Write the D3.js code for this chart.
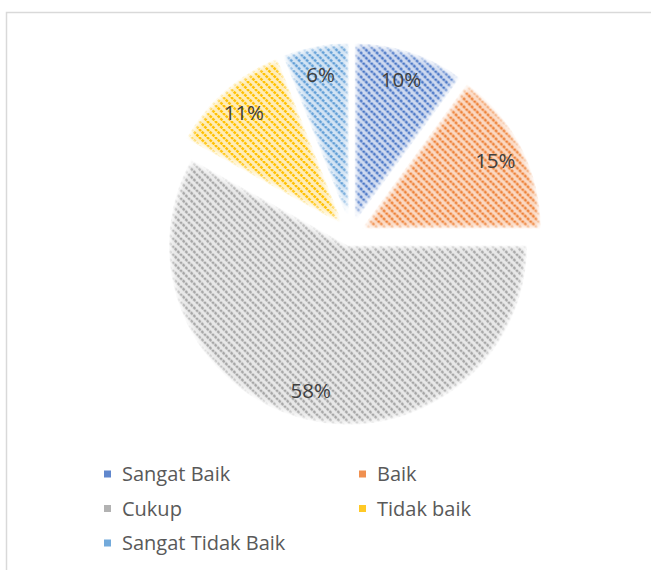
<!DOCTYPE html>
<html>
<head>
<meta charset="utf-8">
<script src="https://cdn.jsdelivr.net/npm/d3@7"></script>
<style>
  body { margin: 0; background: #fff; }
  text { font-family: "Open Sans", "Noto Sans", sans-serif; }
</style>
</head>
<body>
<div id="chart"></div>
<script>
// values
const categories = ["Sangat Baik", "Baik", "Cukup", "Tidak baik", "Sangat Tidak Baik"];
const values = [10, 15, 58, 11, 6];
const pctLabels = ["10%", "15%", "58%", "11%", "6%"];

const width = 651, height = 570;
const colours = ["#4472C4", "#ED7D31", "#A5A5A5", "#FFC000", "#5B9BD5"];
const tints = ["#cfdaf0", "#fbd9c3", "#e8e8e8", "#ffedb8", "#d3e4f4"];

const svg = d3.select("#chart").append("svg")
    .attr("width", width)
    .attr("height", height);

// chart area border (only left and top edges are visible)
svg.append("rect")
    .attr("x", 6.5).attr("y", 12.5)
    .attr("width", 700).attr("height", 600)
    .attr("fill", "#fff")
    .attr("stroke", "#d9d9d9")
    .attr("stroke-width", 1.5);

const defs = svg.append("defs");

// downward diagonal hatch, one per series
colours.forEach((c, i) => {
    const p = defs.append("pattern")
        .attr("id", "hatch" + i)
        .attr("patternUnits", "userSpaceOnUse")
        .attr("width", 8).attr("height", 8);
    p.append("rect").attr("width", 8).attr("height", 8).attr("fill", tints[i]);
    [[0, 0, 8, 8], [-8, 0, 0, 8], [8, 0, 16, 8]].forEach(l => {
        p.append("line")
            .attr("x1", l[0]).attr("y1", l[1]).attr("x2", l[2]).attr("y2", l[3])
            .attr("stroke", c)
            .attr("stroke-width", 2.4)
            .attr("stroke-dasharray", "2.83 0.94");
    });
});

// soft edges like the office effect
const soft = defs.append("filter").attr("id", "soft")
    .attr("x", "-10%").attr("y", "-10%").attr("width", "120%").attr("height", "120%");
soft.append("feMorphology").attr("in", "SourceAlpha").attr("operator", "erode").attr("radius", 2).attr("result", "er");
soft.append("feGaussianBlur").attr("in", "er").attr("stdDeviation", 2).attr("result", "bl");
soft.append("feComposite").attr("in", "SourceGraphic").attr("in2", "bl").attr("operator", "in");

const cx = 351, cy = 234, radius = 179, explode = 12, labelR = 150;

const pie = d3.pie().sort(null).value(d => d.value);
const arc = d3.arc().innerRadius(0).outerRadius(radius);

const data = categories.map((c, i) => ({name: c, value: values[i], label: pctLabels[i], idx: i}));
const arcs = pie(data);

const g = svg.append("g").attr("transform", `translate(${cx},${cy})`);

const slices = g.selectAll("g.slice")
    .data(arcs)
    .join("g")
    .attr("class", "slice")
    .attr("transform", d => {
        const a = (d.startAngle + d.endAngle) / 2;
        return `translate(${explode * Math.sin(a)},${-explode * Math.cos(a)})`;
    });

slices.append("path")
    .attr("d", arc)
    .attr("fill", d => `url(#hatch${d.data.idx})`)
    .attr("filter", "url(#soft)");

slices.append("text")
    .attr("x", d => labelR * Math.sin((d.startAngle + d.endAngle) / 2))
    .attr("y", d => -labelR * Math.cos((d.startAngle + d.endAngle) / 2))
    .attr("dy", "0.35em")
    .attr("text-anchor", "middle")
    .attr("font-size", 20.5)
    .attr("fill", "#404040")
    .text(d => d.data.label);

// legend, two columns
const legend = svg.append("g");
const items = legend.selectAll("g")
    .data(data)
    .join("g")
    .attr("transform", (d, i) => `translate(${i % 2 === 0 ? 104 : 359},${474 + Math.floor(i / 2) * 34.5})`);

items.append("rect")
    .attr("x", 0).attr("y", -3.5)
    .attr("width", 7).attr("height", 7)
    .attr("fill", d => colours[d.idx])
    .attr("opacity", 0.85);

items.append("text")
    .attr("x", 18)
    .attr("dy", "0.35em")
    .attr("font-size", 20)
    .attr("fill", "#595959")
    .text(d => d.name);
</script>
</body>
</html>
